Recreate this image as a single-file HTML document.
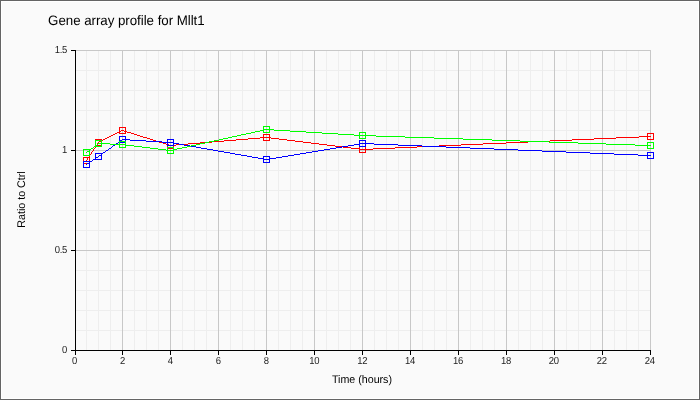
<!DOCTYPE html>
<html><head><meta charset="utf-8"><title>Gene array profile for Mllt1</title>
<style>html,body{margin:0;padding:0;background:#fafafa;overflow:hidden}svg{display:block}text{font-family:"Liberation Sans",Arial,sans-serif;fill:#000;text-rendering:geometricPrecision}</style></head><body>
<svg width="700" height="400" viewBox="0 0 700 400">
<rect x="0" y="0" width="700" height="400" fill="#646464"/>
<rect x="1" y="1" width="698" height="398" fill="#ffffff"/>
<rect x="2" y="2" width="696" height="396" fill="#fafafa"/>
<g fill="#eeeeee">
<rect x="86" y="50" width="1" height="300"/>
<rect x="98" y="50" width="1" height="300"/>
<rect x="110" y="50" width="1" height="300"/>
<rect x="134" y="50" width="1" height="300"/>
<rect x="146" y="50" width="1" height="300"/>
<rect x="158" y="50" width="1" height="300"/>
<rect x="182" y="50" width="1" height="300"/>
<rect x="194" y="50" width="1" height="300"/>
<rect x="206" y="50" width="1" height="300"/>
<rect x="230" y="50" width="1" height="300"/>
<rect x="242" y="50" width="1" height="300"/>
<rect x="254" y="50" width="1" height="300"/>
<rect x="278" y="50" width="1" height="300"/>
<rect x="290" y="50" width="1" height="300"/>
<rect x="302" y="50" width="1" height="300"/>
<rect x="326" y="50" width="1" height="300"/>
<rect x="338" y="50" width="1" height="300"/>
<rect x="350" y="50" width="1" height="300"/>
<rect x="374" y="50" width="1" height="300"/>
<rect x="386" y="50" width="1" height="300"/>
<rect x="398" y="50" width="1" height="300"/>
<rect x="422" y="50" width="1" height="300"/>
<rect x="434" y="50" width="1" height="300"/>
<rect x="446" y="50" width="1" height="300"/>
<rect x="470" y="50" width="1" height="300"/>
<rect x="482" y="50" width="1" height="300"/>
<rect x="494" y="50" width="1" height="300"/>
<rect x="518" y="50" width="1" height="300"/>
<rect x="530" y="50" width="1" height="300"/>
<rect x="542" y="50" width="1" height="300"/>
<rect x="566" y="50" width="1" height="300"/>
<rect x="578" y="50" width="1" height="300"/>
<rect x="590" y="50" width="1" height="300"/>
<rect x="614" y="50" width="1" height="300"/>
<rect x="626" y="50" width="1" height="300"/>
<rect x="638" y="50" width="1" height="300"/>
<rect x="75" y="330" width="576" height="1"/>
<rect x="75" y="310" width="576" height="1"/>
<rect x="75" y="290" width="576" height="1"/>
<rect x="75" y="270" width="576" height="1"/>
<rect x="75" y="230" width="576" height="1"/>
<rect x="75" y="210" width="576" height="1"/>
<rect x="75" y="190" width="576" height="1"/>
<rect x="75" y="170" width="576" height="1"/>
<rect x="75" y="130" width="576" height="1"/>
<rect x="75" y="110" width="576" height="1"/>
<rect x="75" y="90" width="576" height="1"/>
<rect x="75" y="70" width="576" height="1"/>
</g>
<g fill="#c8c8c8">
<rect x="122" y="50" width="1" height="300"/>
<rect x="170" y="50" width="1" height="300"/>
<rect x="218" y="50" width="1" height="300"/>
<rect x="266" y="50" width="1" height="300"/>
<rect x="314" y="50" width="1" height="300"/>
<rect x="362" y="50" width="1" height="300"/>
<rect x="410" y="50" width="1" height="300"/>
<rect x="458" y="50" width="1" height="300"/>
<rect x="506" y="50" width="1" height="300"/>
<rect x="554" y="50" width="1" height="300"/>
<rect x="602" y="50" width="1" height="300"/>
<rect x="650" y="50" width="1" height="300"/>
<rect x="75" y="250" width="576" height="1"/>
<rect x="75" y="150" width="576" height="1"/>
<rect x="75" y="50" width="576" height="1"/>
</g>
<g fill="#000000">
<rect x="75" y="50" width="1" height="301"/>
<rect x="75" y="350" width="576" height="1"/>
<rect x="75" y="351" width="1" height="4"/>
<rect x="122" y="351" width="1" height="4"/>
<rect x="170" y="351" width="1" height="4"/>
<rect x="218" y="351" width="1" height="4"/>
<rect x="266" y="351" width="1" height="4"/>
<rect x="314" y="351" width="1" height="4"/>
<rect x="362" y="351" width="1" height="4"/>
<rect x="410" y="351" width="1" height="4"/>
<rect x="458" y="351" width="1" height="4"/>
<rect x="506" y="351" width="1" height="4"/>
<rect x="554" y="351" width="1" height="4"/>
<rect x="602" y="351" width="1" height="4"/>
<rect x="650" y="351" width="1" height="4"/>
<rect x="71" y="350" width="4" height="1"/>
<rect x="71" y="250" width="4" height="1"/>
<rect x="71" y="150" width="4" height="1"/>
<rect x="71" y="50" width="4" height="1"/>
</g>
<g fill="#ff0000" shape-rendering="crispEdges">
<polygon points="98.290,142.02 99.290,142.02 86.650,160.98 85.650,160.98"/>
<polygon points="98.02,142.210 122.98,129.730 122.98,130.730 98.02,143.210"/>
<polygon points="122.02,129.820 170.98,145.120 170.98,146.120 122.02,130.820"/>
<polygon points="170.02,145.010 266.98,136.930 266.98,137.930 170.02,146.010"/>
<polygon points="266.02,136.910 362.98,149.030 362.98,150.030 266.02,137.910"/>
<polygon points="362.02,148.992 650.98,135.948 650.98,136.948 362.02,149.992"/>
</g>
<g fill="none" stroke="#ff0000" stroke-width="1" shape-rendering="crispEdges">
<rect x="83.5" y="157.5" width="6" height="6"/>
<rect x="95.5" y="139.5" width="6" height="6"/>
<rect x="119.5" y="127.5" width="6" height="6"/>
<rect x="167.5" y="142.5" width="6" height="6"/>
<rect x="263.5" y="134.5" width="6" height="6"/>
<rect x="359.5" y="146.5" width="6" height="6"/>
<rect x="647.5" y="133.5" width="6" height="6"/>
</g>
<g fill="#0000ff" shape-rendering="crispEdges">
<polygon points="86.02,164.350 98.98,155.710 98.98,156.710 86.02,165.350"/>
<polygon points="98.02,156.370 122.98,138.690 122.98,139.690 98.02,157.370"/>
<polygon points="122.02,139.000 170.98,142.060 170.98,143.060 122.02,140.000"/>
<polygon points="170.02,141.945 266.98,159.115 266.98,160.115 170.02,142.945"/>
<polygon points="266.02,159.110 362.98,142.950 362.98,143.950 266.02,160.110"/>
<polygon points="362.02,143.010 650.98,155.050 650.98,156.050 362.02,144.010"/>
</g>
<g fill="none" stroke="#0000ff" stroke-width="1" shape-rendering="crispEdges">
<rect x="83.5" y="161.5" width="6" height="6"/>
<rect x="95.5" y="153.5" width="6" height="6"/>
<rect x="119.5" y="136.5" width="6" height="6"/>
<rect x="167.5" y="139.5" width="6" height="6"/>
<rect x="263.5" y="156.5" width="6" height="6"/>
<rect x="359.5" y="140.5" width="6" height="6"/>
<rect x="647.5" y="152.5" width="6" height="6"/>
</g>
<g fill="#00ff00" shape-rendering="crispEdges">
<polygon points="86.02,152.390 98.98,142.670 98.98,143.670 86.02,153.390"/>
<polygon points="98.02,143.010 122.98,144.050 122.98,145.050 98.02,144.010"/>
<polygon points="122.02,143.970 170.98,150.090 170.98,151.090 122.02,144.970"/>
<polygon points="170.02,150.135 266.98,128.925 266.98,129.925 170.02,151.135"/>
<polygon points="266.02,129.000 362.98,135.060 362.98,136.060 266.02,130.000"/>
<polygon points="362.02,135.013 650.98,145.047 650.98,146.047 362.02,136.013"/>
</g>
<g fill="none" stroke="#00ff00" stroke-width="1" shape-rendering="crispEdges">
<rect x="83.5" y="149.5" width="6" height="6"/>
<rect x="95.5" y="140.5" width="6" height="6"/>
<rect x="119.5" y="141.5" width="6" height="6"/>
<rect x="167.5" y="147.5" width="6" height="6"/>
<rect x="263.5" y="126.5" width="6" height="6"/>
<rect x="359.5" y="132.5" width="6" height="6"/>
<rect x="647.5" y="142.5" width="6" height="6"/>
</g>
<text transform="translate(48.1 24.8) scale(1.0 1.03)" font-size="13.33" text-anchor="start" letter-spacing="-0.045">Gene array profile for Mllt1</text>
<text transform="translate(66.9 353.0) scale(0.93 1.0)" font-size="10.2" text-anchor="end" letter-spacing="-0.4" style="fill:#1c1c1c">0</text>
<text transform="translate(66.9 253.0) scale(0.93 1.0)" font-size="10.2" text-anchor="end" letter-spacing="-0.4" style="fill:#1c1c1c">0.5</text>
<text transform="translate(66.9 153.0) scale(0.93 1.0)" font-size="10.2" text-anchor="end" letter-spacing="-0.4" style="fill:#1c1c1c">1</text>
<text transform="translate(66.9 53.0) scale(0.93 1.0)" font-size="10.2" text-anchor="end" letter-spacing="-0.4" style="fill:#1c1c1c">1.5</text>
<text transform="translate(74.6 364.0) scale(0.93 1.0)" font-size="10.2" text-anchor="middle" style="fill:#1c1c1c">0</text>
<text transform="translate(122.52 364.0) scale(0.93 1.0)" font-size="10.2" text-anchor="middle" style="fill:#1c1c1c">2</text>
<text transform="translate(170.43 364.0) scale(0.93 1.0)" font-size="10.2" text-anchor="middle" style="fill:#1c1c1c">4</text>
<text transform="translate(218.35 364.0) scale(0.93 1.0)" font-size="10.2" text-anchor="middle" style="fill:#1c1c1c">6</text>
<text transform="translate(266.27 364.0) scale(0.93 1.0)" font-size="10.2" text-anchor="middle" style="fill:#1c1c1c">8</text>
<text transform="translate(314.28 364.0) scale(0.93 1.0)" font-size="10.2" text-anchor="middle" letter-spacing="-0.25" style="fill:#1c1c1c">10</text>
<text transform="translate(362.2 364.0) scale(0.93 1.0)" font-size="10.2" text-anchor="middle" letter-spacing="-0.25" style="fill:#1c1c1c">12</text>
<text transform="translate(410.12 364.0) scale(0.93 1.0)" font-size="10.2" text-anchor="middle" letter-spacing="-0.25" style="fill:#1c1c1c">14</text>
<text transform="translate(458.03 364.0) scale(0.93 1.0)" font-size="10.2" text-anchor="middle" letter-spacing="-0.25" style="fill:#1c1c1c">16</text>
<text transform="translate(505.95 364.0) scale(0.93 1.0)" font-size="10.2" text-anchor="middle" letter-spacing="-0.25" style="fill:#1c1c1c">18</text>
<text transform="translate(553.87 364.0) scale(0.93 1.0)" font-size="10.2" text-anchor="middle" letter-spacing="-0.25" style="fill:#1c1c1c">20</text>
<text transform="translate(601.78 364.0) scale(0.93 1.0)" font-size="10.2" text-anchor="middle" letter-spacing="-0.25" style="fill:#1c1c1c">22</text>
<text transform="translate(649.7 364.0) scale(0.93 1.0)" font-size="10.2" text-anchor="middle" letter-spacing="-0.25" style="fill:#1c1c1c">24</text>
<text transform="translate(362 382.8) scale(1.0 1.04)" font-size="10.67" text-anchor="middle">Time (hours)</text>
<text transform="translate(25.4 199.5) rotate(-90) scale(1.0 1.04)" font-size="10.67" text-anchor="middle">Ratio to Ctrl</text>
</svg></body></html>
